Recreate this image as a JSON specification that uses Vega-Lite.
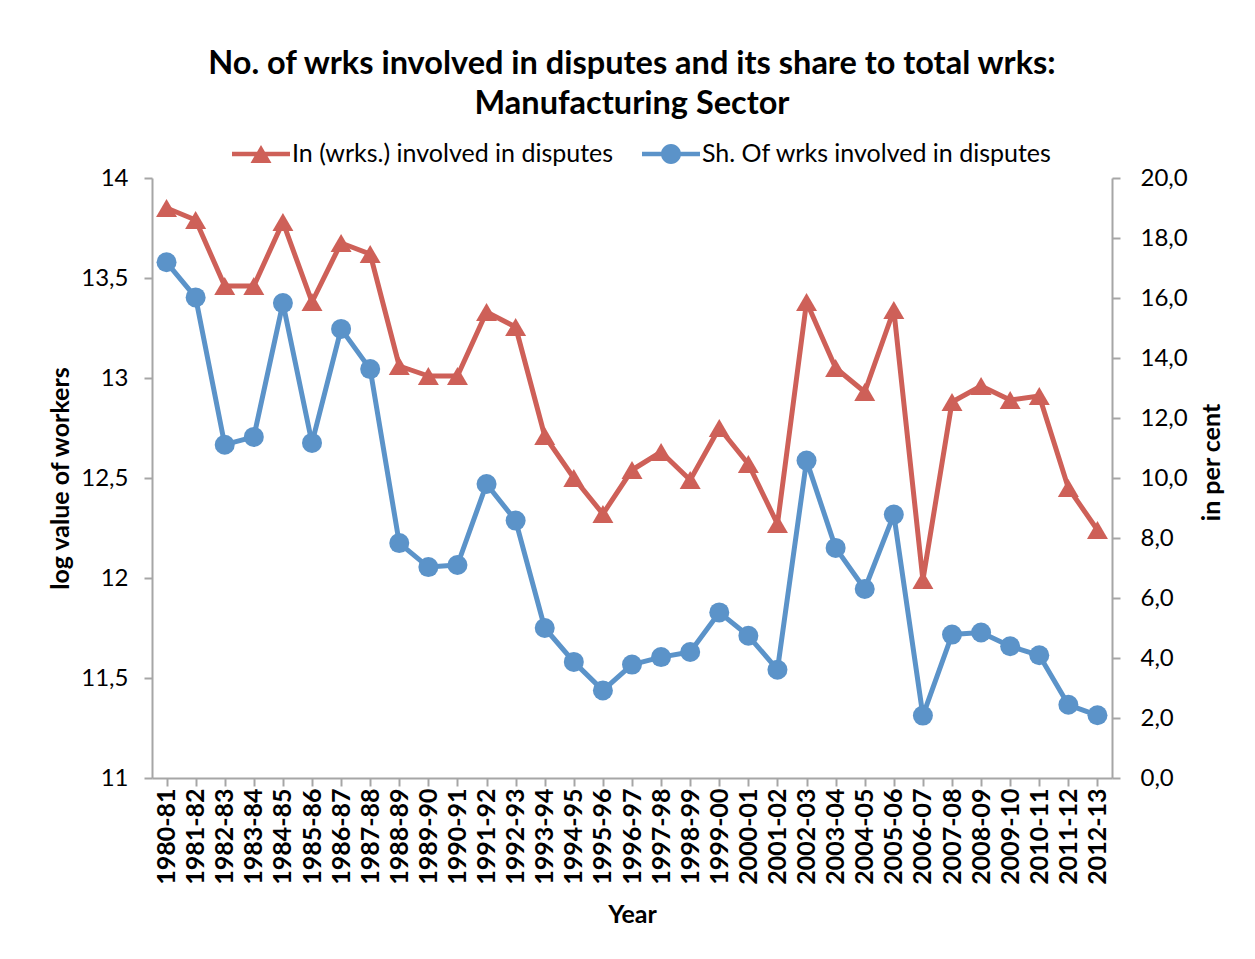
{
  "$schema": "https://vega.github.io/schema/vega-lite/v6.json",
  "width": 960,
  "height": 600,
  "autosize": {"type": "none"},
  "padding": {"left": 152, "top": 178, "right": 143, "bottom": 181},
  "background": "white",
  "config": {
    "font": "Lato",
    "view": {"stroke": null},
    "axis": {
      "domainColor": "#A6A6A6",
      "domainWidth": 2,
      "tickColor": "#A6A6A6",
      "tickWidth": 2,
      "tickSize": 8,
      "labelColor": "black",
      "titleColor": "black",
      "labelFontSize": 24,
      "titleFontSize": 25,
      "titleFontWeight": "bold",
      "grid": false
    },
    "legend": {
      "orient": "none",
      "direction": "horizontal",
      "legendX": 80,
      "legendY": -53,
      "labelFontSize": 25,
      "labelColor": "black",
      "labelOffset": 2,
      "labelLimit": 0,
      "columnPadding": 28,
      "symbolSize": 3364,
      "symbolStrokeWidth": 0,
      "title": null
    }
  },
  "title": {
    "text": ["No. of wrks involved in disputes and its share to total wrks:", "Manufacturing Sector"],
    "fontSize": 32.5,
    "fontWeight": "bold",
    "lineHeight": 40,
    "anchor": "middle",
    "offset": 5,
    "color": "black"
  },
  "data": {
    "values": [
      {"year": "1980-81", "ln_workers": 13.85, "share_pct": 17.19},
      {"year": "1981-82", "ln_workers": 13.79, "share_pct": 16.02},
      {"year": "1982-83", "ln_workers": 13.46, "share_pct": 11.11},
      {"year": "1983-84", "ln_workers": 13.46, "share_pct": 11.37},
      {"year": "1984-85", "ln_workers": 13.78, "share_pct": 15.83},
      {"year": "1985-86", "ln_workers": 13.38, "share_pct": 11.17},
      {"year": "1986-87", "ln_workers": 13.675, "share_pct": 14.97},
      {"year": "1987-88", "ln_workers": 13.62, "share_pct": 13.63},
      {"year": "1988-89", "ln_workers": 13.06, "share_pct": 7.83},
      {"year": "1989-90", "ln_workers": 13.01, "share_pct": 7.03},
      {"year": "1990-91", "ln_workers": 13.01, "share_pct": 7.1},
      {"year": "1991-92", "ln_workers": 13.33, "share_pct": 9.8},
      {"year": "1992-93", "ln_workers": 13.255, "share_pct": 8.58},
      {"year": "1993-94", "ln_workers": 12.71, "share_pct": 5.0},
      {"year": "1994-95", "ln_workers": 12.5, "share_pct": 3.87},
      {"year": "1995-96", "ln_workers": 12.32, "share_pct": 2.92},
      {"year": "1996-97", "ln_workers": 12.54, "share_pct": 3.78},
      {"year": "1997-98", "ln_workers": 12.63, "share_pct": 4.03},
      {"year": "1998-99", "ln_workers": 12.49, "share_pct": 4.2},
      {"year": "1999-00", "ln_workers": 12.75, "share_pct": 5.52},
      {"year": "2000-01", "ln_workers": 12.57, "share_pct": 4.74},
      {"year": "2001-02", "ln_workers": 12.27, "share_pct": 3.61},
      {"year": "2002-03", "ln_workers": 13.38, "share_pct": 10.58},
      {"year": "2003-04", "ln_workers": 13.05, "share_pct": 7.67},
      {"year": "2004-05", "ln_workers": 12.93, "share_pct": 6.3},
      {"year": "2005-06", "ln_workers": 13.34, "share_pct": 8.78},
      {"year": "2006-07", "ln_workers": 11.99, "share_pct": 2.08},
      {"year": "2007-08", "ln_workers": 12.88, "share_pct": 4.78},
      {"year": "2008-09", "ln_workers": 12.96, "share_pct": 4.85},
      {"year": "2009-10", "ln_workers": 12.89, "share_pct": 4.39},
      {"year": "2010-11", "ln_workers": 12.91, "share_pct": 4.09},
      {"year": "2011-12", "ln_workers": 12.45, "share_pct": 2.44},
      {"year": "2012-13", "ln_workers": 12.24, "share_pct": 2.09}
    ]
  },
  "encoding": {
    "x": {
      "field": "year",
      "type": "nominal",
      "sort": null,
      "scale": {"paddingInner": 0, "paddingOuter": 0},
      "axis": {
        "title": "Year",
        "labelAngle": -90,
        "labelFontWeight": "bold",
        "labelFontSize": 25,
        "bandPosition": 0,
        "labelPadding": 2,
        "titlePadding": 18
      }
    }
  },
  "layer": [
    {
      "encoding": {
        "y": {
          "field": "ln_workers",
          "type": "quantitative",
          "scale": {"domain": [11, 14], "nice": false, "zero": false},
          "axis": {
            "orient": "left",
            "title": "log value of workers",
            "values": [11, 11.5, 12, 12.5, 13, 13.5, 14],
            "labelExpr": "replace(format(datum.value, '~g'), '.', ',')",
            "labelPadding": 16,
            "titlePadding": 7
          }
        }
      },
      "layer": [
        {
          "mark": {"type": "line", "strokeWidth": 5, "strokeJoin": "round"},
          "encoding": {
            "color": {"datum": "In (wrks.) involved in disputes", "scale": {"domain": ["In (wrks.) involved in disputes", "Sh. Of wrks involved in disputes"], "range": ["#CE6058", "#5B93C9"]}}
          }
        },
        {
          "mark": {"type": "point", "shape": "triangle-up", "filled": true, "opacity": 1, "size": 441},
          "encoding": {
            "color": {"datum": "In (wrks.) involved in disputes"}
          }
        },
        {
          "mark": {"type": "point", "filled": true, "opacity": 1, "size": 0},
          "encoding": {
            "color": {"datum": "In (wrks.) involved in disputes"},
            "shape": {
              "datum": "In (wrks.) involved in disputes",
              "scale": {
                "domain": ["In (wrks.) involved in disputes", "Sh. Of wrks involved in disputes"],
                "range": [
                  "M-1,-0.08H1V0.08H-1Z M0,-0.31L0.362,0.31L-0.362,0.31Z",
                  "M-1,-0.08H1V0.08H-1Z M-0.345,0A0.345,0.345 0 1,1 0.345,0A0.345,0.345 0 1,1 -0.345,0Z"
                ]
              }
            }
          }
        }
      ]
    },
    {
      "encoding": {
        "y": {
          "field": "share_pct",
          "type": "quantitative",
          "scale": {"domain": [0, 20], "nice": false},
          "axis": {
            "orient": "right",
            "title": "in per cent",
            "titleAngle": -90,
            "titleY": 284,
            "values": [0, 2, 4, 6, 8, 10, 12, 14, 16, 18, 20],
            "labelExpr": "replace(format(datum.value, '.1f'), '.', ',')",
            "labelPadding": 20,
            "titlePadding": 37
          }
        }
      },
      "layer": [
        {
          "mark": {"type": "line", "strokeWidth": 5, "strokeJoin": "round"},
          "encoding": {
            "color": {"datum": "Sh. Of wrks involved in disputes"}
          }
        },
        {
          "mark": {"type": "point", "shape": "circle", "filled": true, "opacity": 1, "size": 400},
          "encoding": {
            "color": {"datum": "Sh. Of wrks involved in disputes"}
          }
        },
        {
          "mark": {"type": "point", "filled": true, "opacity": 1, "size": 0},
          "encoding": {
            "color": {"datum": "Sh. Of wrks involved in disputes"},
            "shape": {"datum": "Sh. Of wrks involved in disputes"}
          }
        }
      ]
    }
  ],
  "resolve": {"scale": {"y": "independent"}}
}
